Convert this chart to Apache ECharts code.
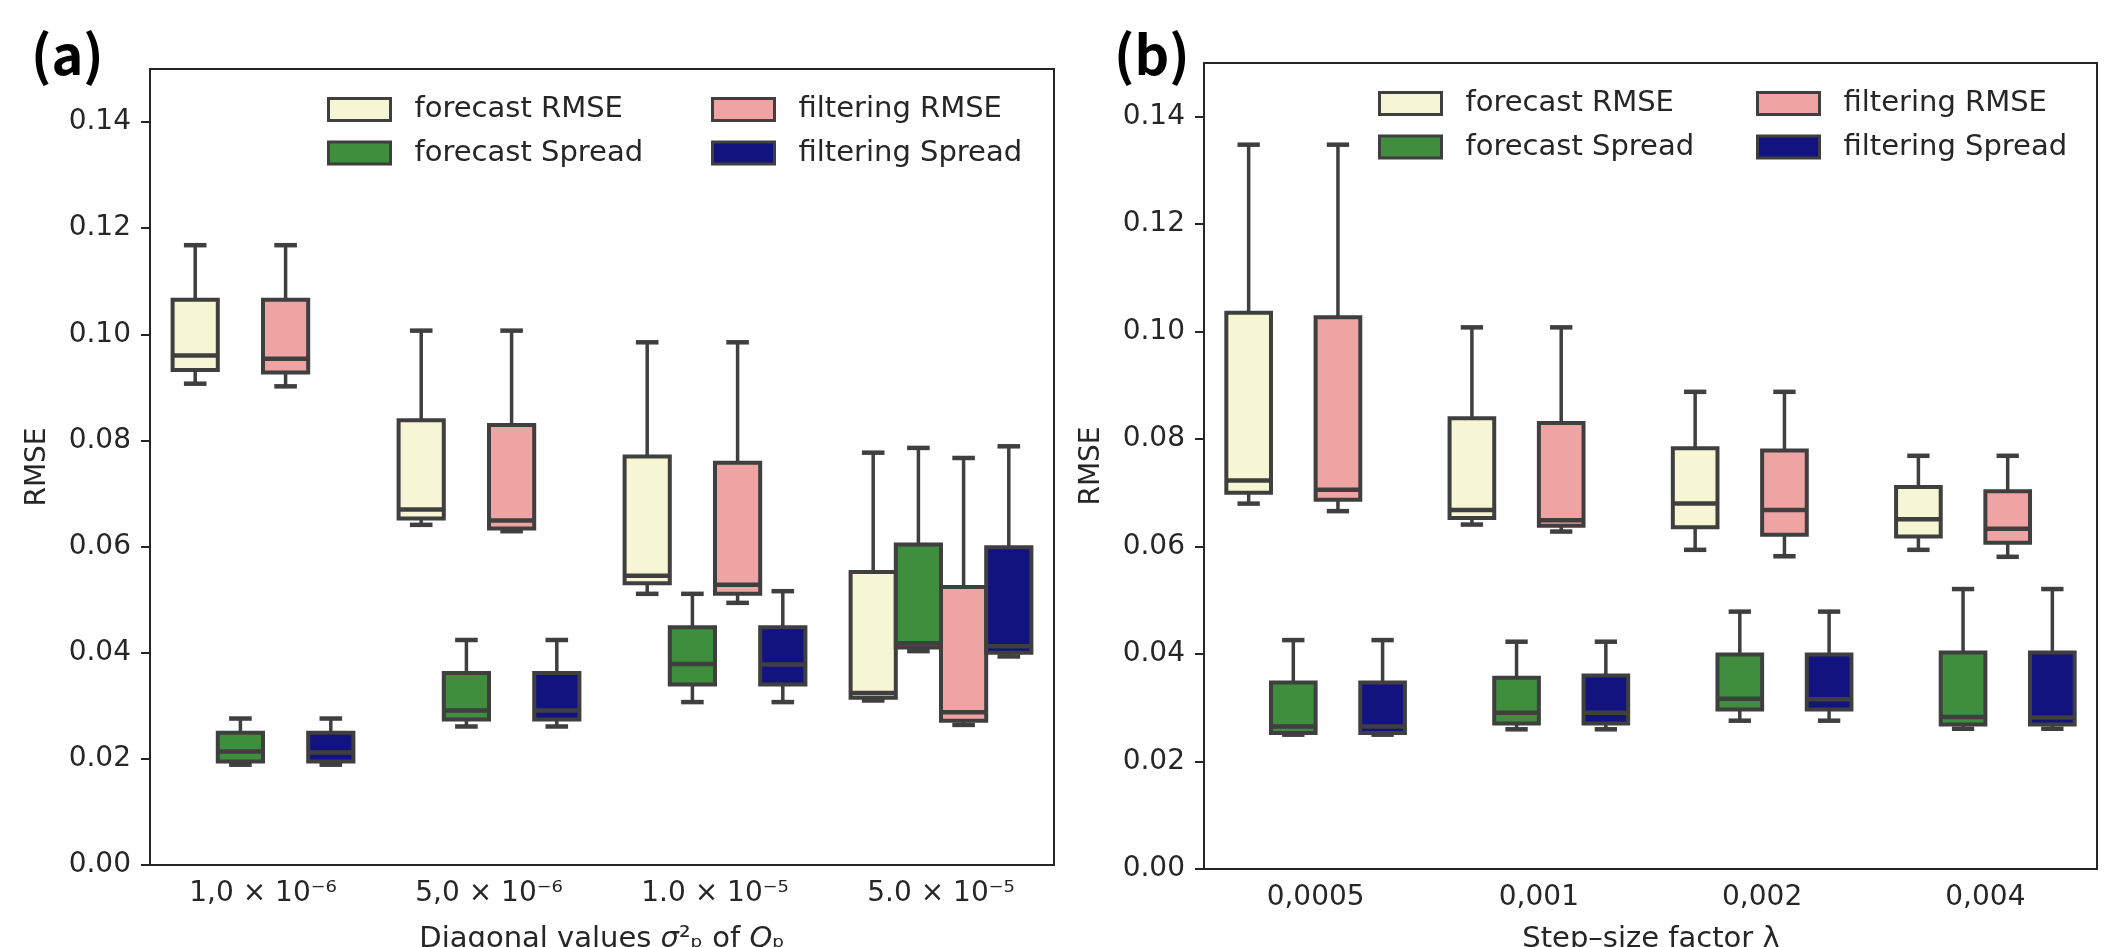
<!DOCTYPE html>
<html>
<head>
<meta charset="utf-8">
<title>RMSE / Spread boxplots</title>
<script src="https://cdn.jsdelivr.net/npm/echarts@6/dist/echarts.min.js"></script>
<style>
  html, body { margin: 0; padding: 0; background: #fff; }
  #chart { width: 2126px; height: 947px; }
</style>
</head>
<body>
<div id="chart"></div>
<script>
// tick labels
const CATS_A = ['1,0 × 10⁻⁶', '5,0 × 10⁻⁶', '1.0 × 10⁻⁵', '5.0 × 10⁻⁵'];
const CATS_B = ['0,0005', '0,001', '0,002', '0,004'];
const Y_TICKS = [0, 0.02, 0.04, 0.06, 0.08, 0.10, 0.12, 0.14];

const NAMES = ['forecast RMSE', 'forecast Spread', 'filtering RMSE', 'filtering Spread'];

// each row: [lower whisker, Q1, median, Q3, upper whisker], one row per category
// panel (a)
const A_FORECAST_RMSE = [
  [0.0907, 0.0933, 0.0960, 0.1065, 0.1168],
  [0.0641, 0.0653, 0.0670, 0.0838, 0.1007],
  [0.0511, 0.0531, 0.0545, 0.0770, 0.0985],
  [0.0310, 0.0315, 0.0324, 0.0552, 0.0777]
];
const A_FORECAST_SPREAD = [
  [0.0189, 0.0195, 0.0214, 0.0249, 0.0276],
  [0.0261, 0.0274, 0.0291, 0.0362, 0.0424],
  [0.0307, 0.0340, 0.0379, 0.0448, 0.0511],
  [0.0403, 0.0410, 0.0418, 0.0604, 0.0786]
];
const A_FILTERING_RMSE = [
  [0.0902, 0.0928, 0.0954, 0.1065, 0.1168],
  [0.0629, 0.0634, 0.0649, 0.0829, 0.1007],
  [0.0494, 0.0511, 0.0528, 0.0758, 0.0985],
  [0.0264, 0.0272, 0.0288, 0.0524, 0.0767]
];
const A_FILTERING_SPREAD = [
  [0.0189, 0.0195, 0.0212, 0.0249, 0.0276],
  [0.0261, 0.0274, 0.0291, 0.0362, 0.0424],
  [0.0307, 0.0340, 0.0378, 0.0448, 0.0516],
  [0.0393, 0.0400, 0.0412, 0.0599, 0.0789]
];

// panel (b)
const B_FORECAST_RMSE = [
  [0.0680, 0.0700, 0.0723, 0.1035, 0.1348],
  [0.0641, 0.0653, 0.0668, 0.0839, 0.1008],
  [0.0594, 0.0636, 0.0680, 0.0783, 0.0888],
  [0.0594, 0.0619, 0.0651, 0.0711, 0.0769]
];
const B_FORECAST_SPREAD = [
  [0.0250, 0.0253, 0.0265, 0.0347, 0.0426],
  [0.0260, 0.0271, 0.0291, 0.0356, 0.0423],
  [0.0276, 0.0297, 0.0317, 0.0399, 0.0479],
  [0.0261, 0.0269, 0.0283, 0.0403, 0.0521]
];
const B_FILTERING_RMSE = [
  [0.0666, 0.0687, 0.0706, 0.1027, 0.1348],
  [0.0628, 0.0639, 0.0649, 0.0830, 0.1008],
  [0.0582, 0.0622, 0.0668, 0.0779, 0.0888],
  [0.0581, 0.0607, 0.0633, 0.0703, 0.0769]
];
const B_FILTERING_SPREAD = [
  [0.0250, 0.0253, 0.0265, 0.0347, 0.0426],
  [0.0260, 0.0271, 0.0291, 0.0360, 0.0423],
  [0.0276, 0.0297, 0.0316, 0.0399, 0.0479],
  [0.0261, 0.0269, 0.0282, 0.0403, 0.0521]
];

const FONT = 'DejaVu Sans';
const TEXT = '#262626';
const AXIS = '#262626';
const EDGE = '#3f3f3f';
const COLORS = ['#f6f6d5', '#3e8e3e', '#efa4a4', '#131380'];
const OFFSETS = [-0.3, -0.1, 0.1, 0.3]; // hue position inside a category band

// box drawn through the axes: x from category index, y from values
function boxRenderer(offset) {
  return function (params, api) {
    const c = api.value(0);
    const band = api.size([1, 0])[0];
    const w = band * 0.2;
    const x = api.coord([c, 0])[0] + offset * band;
    const yLo = api.coord([c, api.value(1)])[1];
    const yQ1 = api.coord([c, api.value(2)])[1];
    const yMed = api.coord([c, api.value(3)])[1];
    const yQ3 = api.coord([c, api.value(4)])[1];
    const yHi = api.coord([c, api.value(5)])[1];
    const whisker = { stroke: EDGE, lineWidth: 3.5 };
    const thick = { stroke: EDGE, lineWidth: 4.5 };
    return {
      type: 'group',
      children: [
        { type: 'rect', shape: { x: x - w / 2, y: yQ3, width: w, height: yQ1 - yQ3 },
          style: { fill: api.visual('color'), stroke: EDGE, lineWidth: 4 } },
        { type: 'line', shape: { x1: x, y1: yQ3, x2: x, y2: yHi }, style: whisker },
        { type: 'line', shape: { x1: x, y1: yQ1, x2: x, y2: yLo }, style: whisker },
        { type: 'line', shape: { x1: x - w / 4, y1: yHi, x2: x + w / 4, y2: yHi }, style: thick },
        { type: 'line', shape: { x1: x - w / 4, y1: yLo, x2: x + w / 4, y2: yLo }, style: thick },
        { type: 'line', shape: { x1: x - w / 2, y1: yMed, x2: x + w / 2, y2: yMed }, style: thick }
      ]
    };
  };
}

function boxSeries(idx, axisIdx, rows) {
  return {
    type: 'custom',
    name: NAMES[idx],
    xAxisIndex: axisIdx,
    yAxisIndex: axisIdx,
    itemStyle: { color: COLORS[idx] },
    encode: { x: 0, y: [1, 2, 3, 4, 5] },
    data: rows.map((r, i) => [i, ...r]),
    renderItem: boxRenderer(OFFSETS[idx])
  };
}

function xAxis(gridIndex, cats) {
  return {
    type: 'category', gridIndex, data: cats,
    axisLine: { lineStyle: { color: AXIS, width: 2 } },
    axisTick: { alignWithLabel: true, length: 9, lineStyle: { color: AXIS, width: 2 } },
    axisLabel: { color: TEXT, fontSize: 28, fontFamily: FONT, margin: 15 },
    splitLine: { show: false }
  };
}

function yAxis(gridIndex) {
  return {
    type: 'value', gridIndex, min: 0, max: 0.15,
    axisLine: { show: true, lineStyle: { color: AXIS, width: 2 } },
    axisTick: { show: true, length: 9, customValues: Y_TICKS, lineStyle: { color: AXIS, width: 2 } },
    axisLabel: { color: TEXT, fontSize: 28, fontFamily: FONT, margin: 19,
      customValues: Y_TICKS, formatter: v => v.toFixed(2) },
    splitLine: { show: false }
  };
}

function legend(left, top, names) {
  return {
    left, top, orient: 'vertical', padding: 0, itemGap: 14.5,
    itemWidth: 62, itemHeight: 22, icon: 'rect',
    itemStyle: { borderColor: EDGE, borderWidth: 3 },
    textStyle: { color: TEXT, fontSize: 29, fontFamily: FONT, padding: [0, 0, 0, 19] },
    data: names
  };
}

const gridStyle = { show: true, borderColor: AXIS, borderWidth: 2, backgroundColor: 'transparent' };

const option = {
  animation: false,
  backgroundColor: '#fff',
  grid: [
    Object.assign({ left: 150, top: 69, width: 904, height: 796 }, gridStyle),
    Object.assign({ left: 1204, top: 63, width: 893, height: 806 }, gridStyle)
  ],
  xAxis: [xAxis(0, CATS_A), xAxis(1, CATS_B)],
  yAxis: [yAxis(0), yAxis(1)],
  legend: [
    legend(327, 95, [NAMES[0], NAMES[1]]),
    legend(711, 95, [NAMES[2], NAMES[3]]),
    legend(1378, 89, [NAMES[0], NAMES[1]]),
    legend(1756, 89, [NAMES[2], NAMES[3]])
  ],
  graphic: [
    { type: 'text', x: 31, y: 27, style: { text: '(a)', fontSize: 54, fontWeight: 'bold', fontFamily: 'Noto Sans CJK JP', fill: '#000', verticalAlign: 'top' } },
    { type: 'text', x: 1114, y: 27, style: { text: '(b)', fontSize: 54, fontWeight: 'bold', fontFamily: 'Noto Sans CJK JP', fill: '#000', verticalAlign: 'top' } },
    { type: 'text', x: 38, y: 467, rotation: Math.PI / 2, style: { text: 'RMSE', fontSize: 28, fontFamily: FONT, fill: TEXT, align: 'center', verticalAlign: 'middle' } },
    { type: 'text', x: 1092, y: 466, rotation: Math.PI / 2, style: { text: 'RMSE', fontSize: 28, fontFamily: FONT, fill: TEXT, align: 'center', verticalAlign: 'middle' } },
    { type: 'text', x: 602, y: 925, style: {
        text: '{n|Diagonal values }{i|σ}{n|²ₚ of }{i|Q}{n|ₚ}',
        align: 'center', verticalAlign: 'top',
        rich: {
          n: { fontSize: 29, fontFamily: FONT, fill: TEXT },
          i: { fontSize: 29, fontFamily: FONT, fontStyle: 'italic', fill: TEXT }
        } } },
    { type: 'text', x: 1651, y: 925, style: { text: 'Step–size factor λ', fontSize: 29, fontFamily: FONT, fill: TEXT, align: 'center', verticalAlign: 'top' } }
  ],
  series: [
    boxSeries(0, 0, A_FORECAST_RMSE),
    boxSeries(1, 0, A_FORECAST_SPREAD),
    boxSeries(2, 0, A_FILTERING_RMSE),
    boxSeries(3, 0, A_FILTERING_SPREAD),
    boxSeries(0, 1, B_FORECAST_RMSE),
    boxSeries(1, 1, B_FORECAST_SPREAD),
    boxSeries(2, 1, B_FILTERING_RMSE),
    boxSeries(3, 1, B_FILTERING_SPREAD)
  ]
};

const chart = echarts.init(document.getElementById('chart'));
chart.setOption(option);
window.addEventListener('resize', () => chart.resize());
</script>
</body>
</html>
